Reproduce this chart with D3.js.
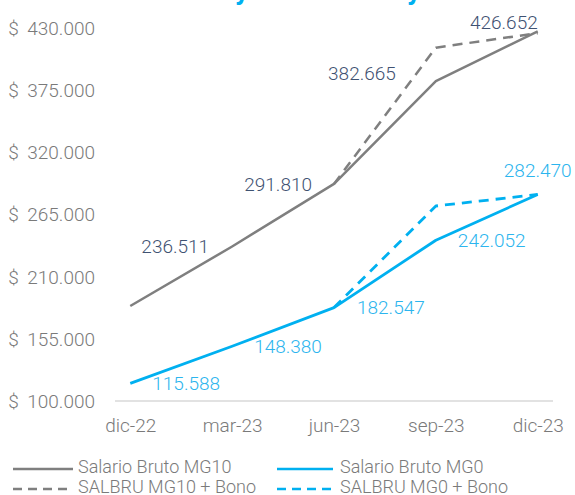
<!DOCTYPE html>
<html>
<head>
<meta charset="utf-8">
<script src="https://cdn.jsdelivr.net/npm/d3@7/dist/d3.min.js"></script>
<style>
  html, body { margin: 0; padding: 0; background: #fff; }
  svg { display: block; font-family: Roboto, "Noto Sans", sans-serif; }
</style>
</head>
<body>
<svg id="chart" width="575" height="495"></svg>
<script>
// ---- data ----
const categories = ["dic-22", "mar-23", "jun-23", "sep-23", "dic-23"];
const mg10 = [183.9, 236.511, 291.810, 382.665, 426.652];
const mg10Bono = [null, null, 291.810, 412.2, 425.0];
const mg0 = [115.588, 148.380, 182.547, 242.052, 282.470];
const mg0Bono = [null, null, 182.547, 272.3, 282.470];
const mg10Labels = [null, "236.511", "291.810", "382.665", "426.652"];
const mg0Labels = ["115.588", "148.380", "182.547", "242.052", "282.470"];
const yTicks = [100, 155, 210, 265, 320, 375, 430];
const legendNames = ["Salario Bruto MG10", "Salario Bruto MG0", "SALBRU MG10 + Bono", "SALBRU MG0 + Bono"];

// ---- styles ----
const GRAY = "#7f7f7f";
const BLUE = "#00b0f0";
const NAVY = "#3f5272";
const BLUE_TXT = "#2cb5ee";
const AXIS_TXT = "#7a7a7a";
const FS = 19;

const svg = d3.select("#chart");

const x = d3.scalePoint().domain(categories).range([115, 553]).padding(0.15);
const y = d3.scaleLinear().domain([100, 430]).range([401, 27.5]);

// cut-off title fragments
svg.append("g").selectAll("text").data([235, 407]).join("text")
  .attr("x", d => d).attr("y", -1)
  .attr("font-size", 28).attr("font-weight", 700).attr("fill", BLUE)
  .text("y");

// y axis (labels only)
const yAxis = d3.axisLeft(y).tickValues(yTicks).tickSize(0).tickPadding(0)
  .tickFormat(d => "$\u2009 " + d3.format(".3f")(d));
const gy = svg.append("g").attr("transform", "translate(95,0)").call(yAxis);
gy.select(".domain").remove();
gy.selectAll("text").attr("font-size", FS).attr("font-weight", 300)
  .attr("fill", AXIS_TXT).attr("font-family", "Roboto, sans-serif").attr("dy", "0.35em");

// x axis
const xAxis = d3.axisBottom(x).tickSize(0).tickPadding(0);
const gx = svg.append("g").attr("transform", "translate(0,401)").call(xAxis);
gx.select(".domain").attr("stroke", "#d9d9d9").attr("stroke-width", 1.5)
  .attr("d", "M" + x.range()[0] + ",0H" + x.range()[1]);
gx.selectAll("text").attr("font-size", FS).attr("font-weight", 300)
  .attr("fill", AXIS_TXT).attr("font-family", "Roboto, sans-serif").attr("y", 31).attr("dy", 0);

// lines
const line = d3.line()
  .defined(d => d.v != null)
  .x(d => x(d.c)).y(d => y(d.v));
function series(vals) { return vals.map((v, i) => ({ c: categories[i], v })); }

const seriesDefs = [
  { vals: mg10Bono, color: GRAY, dash: "10,7", w: 2.5 },
  { vals: mg0Bono, color: BLUE, dash: "10,7", w: 2.8 },
  { vals: mg10, color: GRAY, dash: null, w: 2.5 },
  { vals: mg0, color: BLUE, dash: null, w: 2.8 }
];
seriesDefs.forEach(s => {
  svg.append("path").datum(series(s.vals))
    .attr("d", line).attr("fill", "none")
    .attr("stroke", s.color).attr("stroke-width", s.w)
    .attr("stroke-dasharray", s.dash)
    .attr("stroke-linejoin", "round");
});

// data labels
// placement per point index: [dx, dy, anchor]
const mg10Place = [null, [-23, 0, "end"], [-22, 0, "end"], [-40, -8, "end"], [0, -9, "end"]];
const mg0Place = [[22, 0, "start"], [22, 0, "start"], [23, 0, "start"], [22, 0, "start"], [0, -24, "middle"]];

function labels(vals, texts, place, color) {
  const data = vals.map((v, i) => ({ c: categories[i], v, t: texts[i], p: place[i] }))
    .filter(d => d.t != null);
  svg.append("g").selectAll("text").data(data).join("text")
    .attr("x", d => x(d.c) + d.p[0])
    .attr("y", d => y(d.v) + d.p[1])
    .attr("dy", "0.35em")
    .attr("text-anchor", d => d.p[2])
    .attr("font-size", FS).attr("font-weight", 300)
    .attr("fill", color)
    .text(d => d.t);
}
labels(mg10, mg10Labels, mg10Place, NAVY);
labels(mg0, mg0Labels, mg0Place, BLUE_TXT);

// legend
const legendItems = [
  { name: legendNames[0], color: GRAY, dash: null, col: 0, row: 0 },
  { name: legendNames[1], color: BLUE, dash: null, col: 1, row: 0 },
  { name: legendNames[2], color: GRAY, dash: "9,6", col: 0, row: 1 },
  { name: legendNames[3], color: BLUE, dash: "9,6", col: 1, row: 1 }
];
const colX = [13, 277];
const rowY = [467, 487];
const lg = svg.append("g").selectAll("g").data(legendItems).join("g")
  .attr("transform", d => `translate(${colX[d.col]},${rowY[d.row]})`);
lg.append("line").attr("x1", 0).attr("x2", d => d.col === 0 ? 60 : 56)
  .attr("y1", 2).attr("y2", 2)
  .attr("stroke", d => d.color).attr("stroke-width", 2.5)
  .attr("stroke-dasharray", d => d.dash);
lg.append("text").attr("x", d => d.col === 0 ? 65 : 63).attr("y", 0).attr("dy", "0.35em")
  .attr("font-size", 18).attr("font-weight", 300).attr("fill", AXIS_TXT)
  .text(d => d.name);
</script>
</body>
</html>
